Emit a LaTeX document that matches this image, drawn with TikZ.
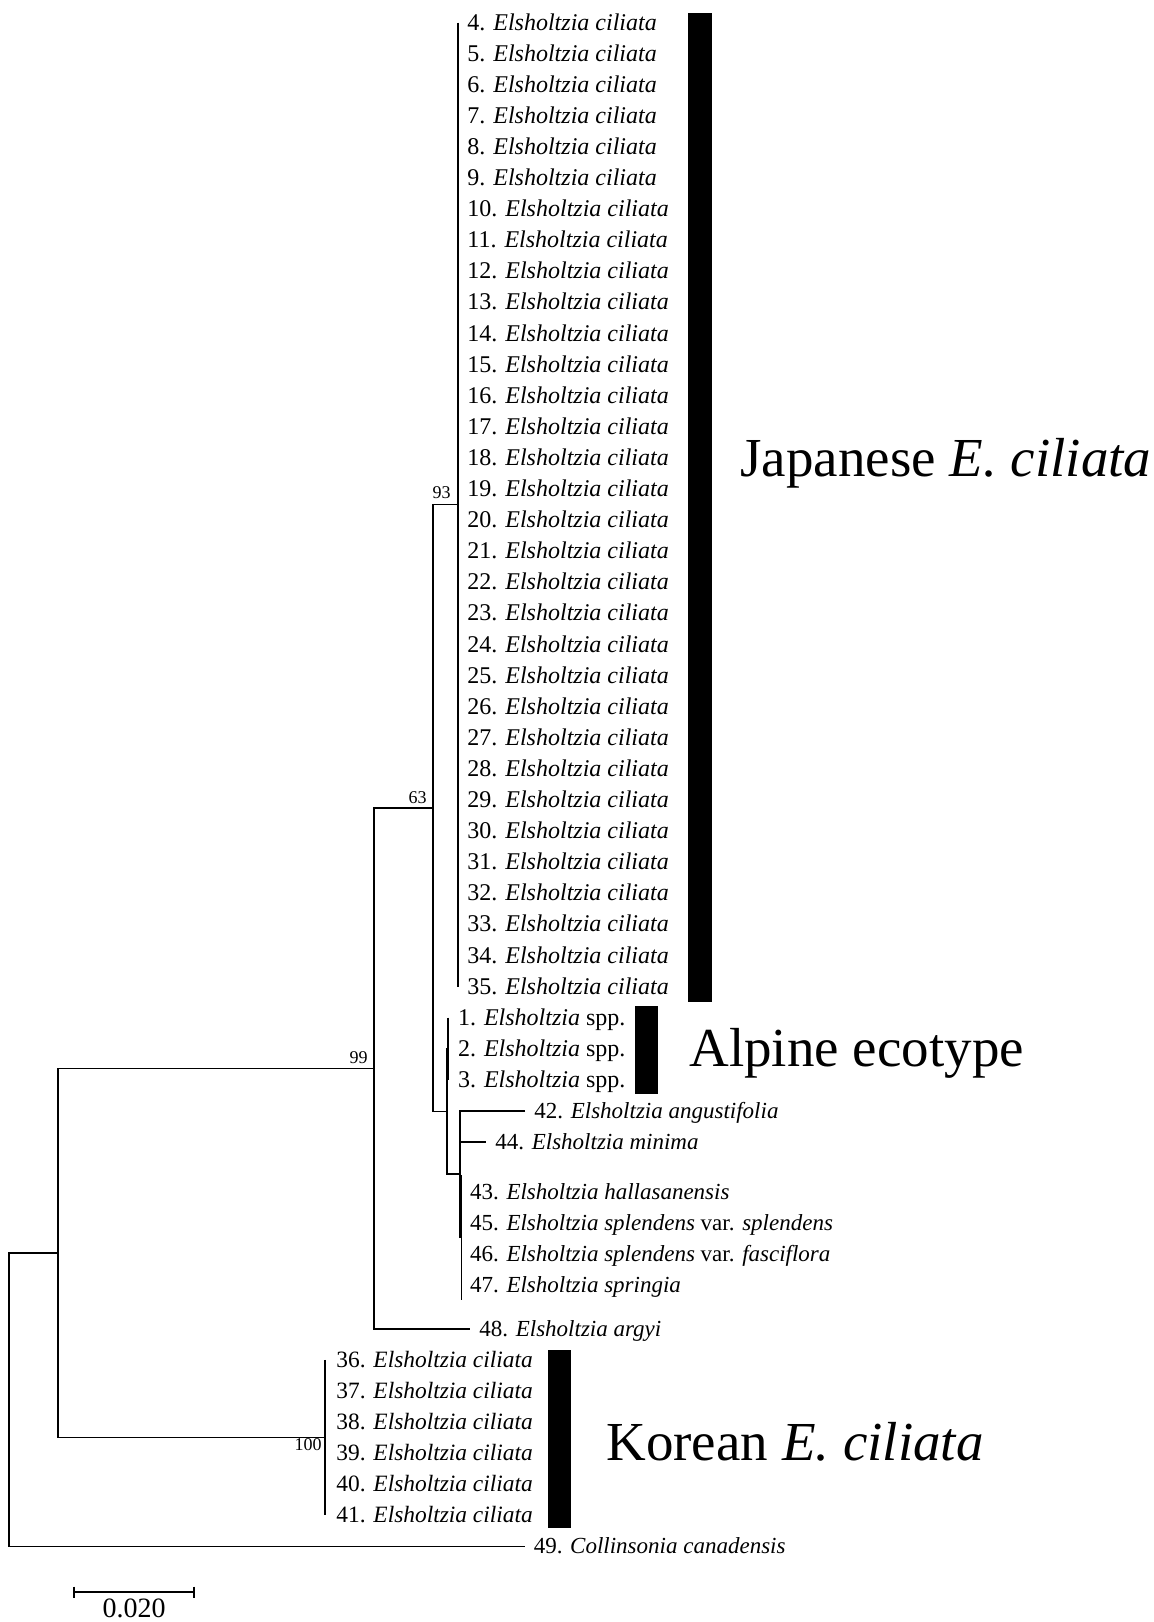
\documentclass[tikz,border=0pt]{standalone}
\usepackage{fontspec}
\setmainfont{Liberation Serif}
\usetikzlibrary{calc}
\begin{document}
\begin{tikzpicture}[x=0.5pt,y=-0.5pt,
  br/.style={line width=0.85pt},
  leaf/.style={anchor=base west, inner sep=0pt, font=\fontsize{12}{14}\selectfont},
  leafk/.style={leaf, font=\fontsize{11.7}{14}\selectfont},
  leafs/.style={leaf, font=\fontsize{11.5}{14}\selectfont},
  boot/.style={anchor=base east, inner sep=0pt, font=\fontsize{9}{10}\selectfont},
  big/.style={anchor=base west, inner sep=0pt, font=\fontsize{27.5}{30}\selectfont},
  scalelab/.style={anchor=base, inner sep=0pt, font=\fontsize{14}{16}\selectfont},
  bar/.style={fill=black}]
\useasboundingbox (0,0) rectangle (1154,1622);
% ---------- leaves ----------
\foreach \n [count=\r from 0] in {4,...,35} {
  \coordinate (t\n) at (458,{22.5+31.1*\r});
  \node[leaf] (l\n) at ([xshift=4.5pt,yshift=-3.75pt]t\n) {\n. \textit{Elsholtzia ciliata}};
}
\foreach \n [count=\r from 32] in {1,2,3} {
  \coordinate (t\n) at (448,{22.5+31.1*\r});
  \node[leaf] (l\n) at ([xshift=4.8pt,yshift=-3.75pt]t\n) {\n. \textit{Elsholtzia} spp.};
}
\coordinate (t42) at (525,1111.0);
\coordinate (t44) at (486,1142.1);
\coordinate (t43) at (461.5,1191.9);
\coordinate (t45) at (461.5,1223.0);
\coordinate (t46) at (461.5,1254.1);
\coordinate (t47) at (461.5,1285.2);
\coordinate (t48) at (470,1328.7);
\foreach \n [count=\r from 43] in {36,...,41} {
  \coordinate (t\n) at (325,{22.5+31.1*\r});
  \node[leafk] (l\n) at ([xshift=5.5pt,yshift=-3.75pt]t\n) {\n. \textit{Elsholtzia ciliata}};
}
\coordinate (t49) at (525,1546.4);
\node[leafs] (l42) at ([xshift=4.5pt,yshift=-3.75pt]t42) {42. \textit{Elsholtzia angustifolia}};
\node[leafs] (l44) at ([xshift=4.5pt,yshift=-3.75pt]t44) {44. \textit{Elsholtzia minima}};
\node[leafs] (l43) at ([xshift=4.1pt,yshift=-3.75pt]t43) {43. \textit{Elsholtzia hallasanensis}};
\node[leafs] (l45) at ([xshift=4.1pt,yshift=-3.75pt]t45) {45. \textit{Elsholtzia splendens} var. \textit{splendens}};
\node[leafs] (l46) at ([xshift=4.1pt,yshift=-3.75pt]t46) {46. \textit{Elsholtzia splendens} var. \textit{fasciflora}};
\node[leafs] (l47) at ([xshift=4.1pt,yshift=-3.75pt]t47) {47. \textit{Elsholtzia springia}};
\node[leafs] (l48) at ([xshift=4.5pt,yshift=-3.75pt]t48) {48. \textit{Elsholtzia argyi}};
\node[leafs] (l49) at ([xshift=4.2pt,yshift=-3.75pt]t49) {49. \textit{Collinsonia canadensis}};
% ---------- internal nodes ----------
\coordinate (J) at (458,504.55);
\coordinate (Al) at (448,1048.8);
\coordinate (D) at (461.5,1237.5);
\coordinate (D1) at (461.5,1175);
\coordinate (D2) at (461.5,1300);
\coordinate (C) at (460,1174.25);
\coordinate (B) at (446.7,1111.5);
\coordinate (A) at (433,808.0);
\coordinate (N99) at (374,1068.35);
\coordinate (N100) at (325,1437.55);
\coordinate (N58) at (58,1252.95);
\coordinate (R) at (9,1252.95);
% ---------- branches ----------
\draw[br] (t4) -- (t35);
\draw[br] (t1) -- (t3);
\draw[br] (t42) -| (C) |- (D);
\draw[br] (C |- t44) -- (t44);
\draw[br] (D1) -- (D2);
\draw[br] (Al) -| (B) |- (C);
\draw[br] (J) -| (A) |- (B);
\draw[br] (A) -| (N99) |- (t48);
\draw[br] (t36) -- (t41);
\draw[br] (N99) -| (N58) |- (N100);
\draw[br] (N58) -| (R) |- (t49);
% ---------- bootstrap values ----------
\node[boot] (b93) at (451,498) {93};
\node[boot] (b63) at (427,803) {63};
\node[boot] (b99) at (368,1063) {99};
\node[boot] (b100) at (322,1450) {100};
% ---------- group bars ----------
\fill[bar] (688,12.7) rectangle (712,1001.7);
\fill[bar] (635,1006) rectangle (658,1094);
\fill[bar] (548,1350) rectangle (571,1528);
\node[big] (gJ) at (740,476.7) {Japanese \textit{E. ciliata}};
\node[big] (gA) at (689,1066.7) {Alpine ecotype};
\node[big] (gK) at (606,1460) {Korean \textit{E. ciliata}};
% ---------- scale bar ----------
\coordinate (s1) at (74.3,1592);
\coordinate (s2) at (194,1592);
\draw[br] (s1) -- (s2);
\draw[br] ([yshift=2.75pt]s1) -- ([yshift=-2.75pt]s1);
\draw[br] ([yshift=2.75pt]s2) -- ([yshift=-2.75pt]s2);
\node[scalelab] (sl) at (134,1617) {0.020};
\end{tikzpicture}
\end{document}
